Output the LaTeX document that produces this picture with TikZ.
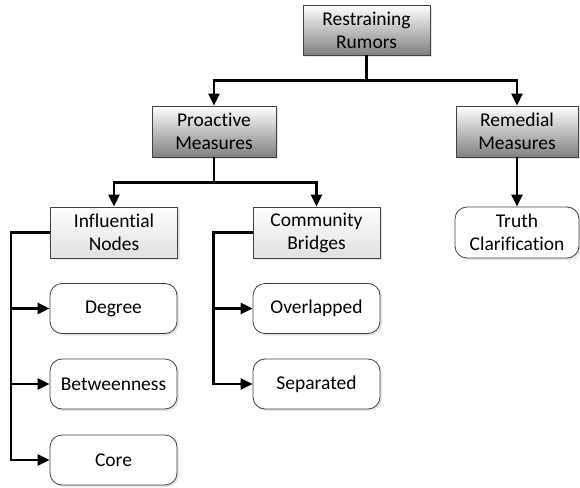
\documentclass[tikz,border=0pt]{standalone}
\usepackage{fontspec}
\setmainfont{Carlito}[Ligatures=NoCommon]
\usepackage{tikz}
\usetikzlibrary{arrows.meta,shadows}
\tikzset{
    box/.style={draw=black!75, line width=0.8pt, align=center,
        font=\fontsize{19.5}{23}\selectfont, inner sep=0pt,
        drop shadow={shadow xshift=2pt, shadow yshift=-2pt, opacity=0.25, fill=black!40}},
    topbox/.style={box, top color=white, bottom color=black!50,
        minimum width=124pt, minimum height=51pt},
    midbox/.style={box, top color=white, bottom color=black!12,
        minimum width=127pt, minimum height=51pt},
    leafbox/.style={box, fill=white, rounded corners=12pt,
        minimum width=127pt, minimum height=50pt},
    link/.style={line width=2.4pt, -{Triangle[length=12pt,width=11pt]}},
}

\begin{document}
\begin{tikzpicture}[x=1pt, y=1pt]
\useasboundingbox (0,0) rectangle (580,-487);

%top level
\node[topbox, minimum width=127pt, minimum height=50pt] (restr) at (366.5,-30) {Restraining\\Rumors};
\node[topbox] (pro) at (214,-131.5) {Proactive\\Measures};
\node[topbox, minimum width=122pt] (rem) at (517,-131.5) {Remedial\\Measures};

%second level
\node[midbox] (infl) at (114,-232.5) {Influential\\Nodes};
\node[midbox] (comm) at (316.5,-232.5) {Community\\Bridges};
\node[leafbox, minimum width=124pt, minimum height=51pt] (truth) at (517,-232.5) {Truth\\Clarification};

%leaves
\node[leafbox] (deg) at (113.5,-308.5) {Degree};
\node[leafbox] (betw) at (113.5,-384) {Betweenness};
\node[leafbox] (core) at (113.5,-460) {Core};
\node[leafbox] (over) at (316.5,-308.5) {Overlapped};
\node[leafbox] (sep) at (316.5,-384) {Separated};

%connectors
\draw[link] (restr.south) -- ++(0,-25) -| (pro.north);
\draw[link] (restr.south) -- ++(0,-25) -| (rem.north);
\draw[link] (pro.south) -- ++(0,-25) -| (infl.north);
\draw[link] (pro.south) -- ++(0,-25) -| (comm.north);
\draw[link] (rem.south) -- (truth.north);

\draw[link] (infl.west) -- ++(-39,0) |- (deg.west);
\draw[link] (infl.west) -- ++(-39,0) |- (betw.west);
\draw[link] (infl.west) -- ++(-39,0) |- (core.west);
\draw[link] (comm.west) -- ++(-39,0) |- (over.west);
\draw[link] (comm.west) -- ++(-39,0) |- (sep.west);
\end{tikzpicture}
\end{document}
